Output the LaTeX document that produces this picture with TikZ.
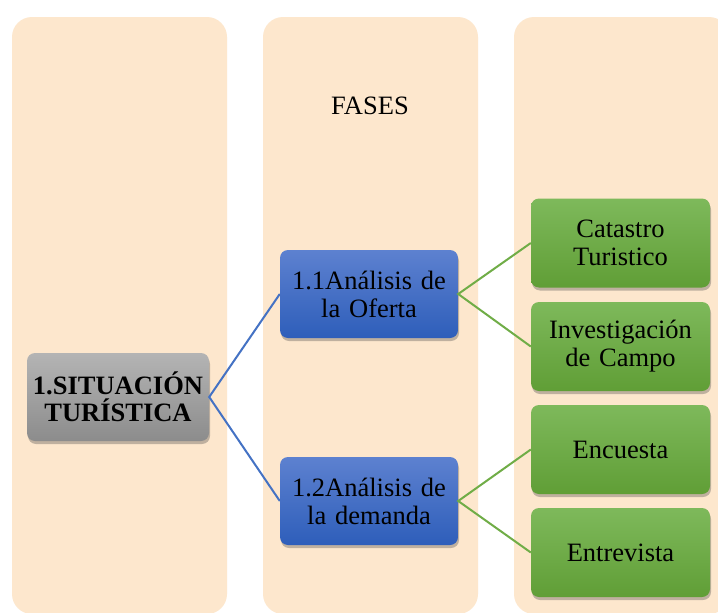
\documentclass[tikz,border=0pt]{standalone}
\usepackage{fontspec}
\setmainfont{Liberation Serif}
\usetikzlibrary{shadows}
\definecolor{peach}{RGB}{253,231,205}
\definecolor{grayT}{RGB}{180,180,180}
\definecolor{grayB}{RGB}{140,140,140}
\definecolor{blueT}{RGB}{93,129,208}
\definecolor{blueB}{RGB}{46,94,186}
\definecolor{blueL}{RGB}{68,114,196}
\definecolor{greenT}{RGB}{126,185,91}
\definecolor{greenB}{RGB}{96,158,54}
\definecolor{greenL}{RGB}{112,173,71}
\begin{document}
\begin{tikzpicture}[x=1pt,y=-1pt,
  column/.style={fill=peach, draw=none, rounded corners=20pt},
  box/.style={rounded corners=8pt, align=center, inner sep=2pt,
    font=\fontsize{26.5}{28}\selectfont, shading=axis,
    drop shadow={shadow xshift=1pt, shadow yshift=-3pt, opacity=0.35, fill=black!70}},
  graybox/.style={box, top color=grayT, bottom color=grayB, minimum width=180pt, minimum height=88pt, text width=178pt, font=\fontsize{26.5}{27}\selectfont\bfseries},
  bluebox/.style={box, top color=blueT, bottom color=blueB, minimum width=178pt, minimum height=88pt, text width=174pt},
  greenbox/.style={box, top color=greenT, bottom color=greenB, minimum width=179pt, minimum height=89pt, text width=174pt},
  bluelink/.style={draw=blueL, line width=2pt},
  greenlink/.style={draw=greenL, line width=2pt}
]
\useasboundingbox (0,0) rectangle (718,613);
\fill[white] (0,0) rectangle (718,613);
\path[column] (12,17) rectangle (227,614);
\path[column] (263,17) rectangle (478,614);
\path[column] (514,17) rectangle (729,614);

\node[font=\fontsize{26.5}{28}\selectfont] (fases) at (370,106) {FASES};

\node[graybox] (sit) at (118,397) {1.SITUACIÓN\\TURÍSTICA};
\node[bluebox] (of) at (369,294) {1.1Análisis de\\la Oferta};
\node[bluebox] (de) at (369,501) {1.2Análisis de\\la demanda};
\node[greenbox] (cat) at (620.5,243) {Catastro\\Turistico};
\node[greenbox] (inv) at (620.5,346.5) {Investigación\\de Campo};
\node[greenbox] (enc) at (620.5,449.5) {Encuesta};
\node[greenbox] (ent) at (620.5,552.5) {Entrevista};

\draw[bluelink] (of.west) -- (sit.east) -- (de.west);
\draw[greenlink] (cat.west) -- (of.east) -- (inv.west);
\draw[greenlink] (enc.west) -- (de.east) -- (ent.west);
\end{tikzpicture}
\end{document}
